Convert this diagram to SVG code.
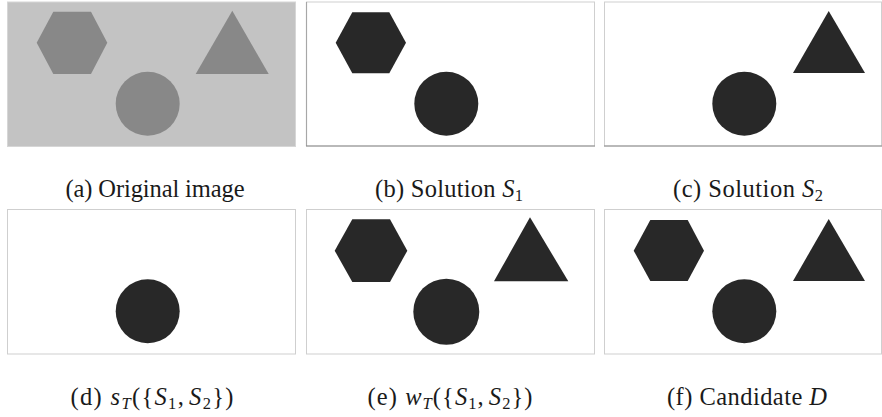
<svg xmlns="http://www.w3.org/2000/svg" width="882" height="417" viewBox="0 0 882 417">
<style>
.frame{fill:#ffffff;stroke:#cfcfcf;stroke-width:1}
.frameA{fill:#c3c3c3;stroke:#d6d6d6;stroke-width:1}
.base{stroke:#8c8c8c;stroke-width:1.2}
.dk{fill:#282828}
.gr{fill:#888888}
.lbl{font-family:"Liberation Serif","DejaVu Serif",serif;font-size:24.5px;fill:#1a1a1a;text-anchor:middle}
.it{font-style:italic}
.sb{font-size:16.5px}
</style>
<rect width="882" height="417" fill="#ffffff"/>
<g id="panel-a">
<rect class="frameA" x="7.5" y="2" width="288" height="144.5"/>
<polygon class="gr" points="36.7,42.7 53.3,11.7 91,11.7 107.3,42.7 91,74 53.3,74"/>
<polygon class="gr" points="232.3,10.7 268.7,74 195.7,74"/>
<circle class="gr" cx="147.7" cy="103.8" r="32"/>
<text class="lbl" x="155" y="197" textLength="179">(a) Original image</text>
</g>
<g id="panel-b">
<rect class="frame" x="306.5" y="2" width="288" height="144"/>
<line class="base" x1="306" y1="146" x2="595" y2="146"/>
<line class="base" x1="306.5" y1="2" x2="306.5" y2="146" stroke-opacity="0.6"/>
<polygon class="dk" points="335.7,42.7 352.3,12.3 389.3,12.3 406,42.7 389.3,73.3 352.3,73.3"/>
<circle class="dk" cx="446.3" cy="103.7" r="32"/>
<text class="lbl" x="449" y="197" textLength="148">(b) Solution <tspan class="it">S</tspan><tspan class="sb" dy="4">1</tspan></text>
</g>
<g id="panel-c">
<rect class="frame" x="604.5" y="2" width="277" height="144"/>
<line class="base" x1="604" y1="146" x2="882" y2="146"/>
<polygon class="dk" points="828.7,11 865,73 793,73"/>
<circle class="dk" cx="744.3" cy="103.7" r="32"/>
<text class="lbl" x="748" y="197" textLength="150">(c) Solution <tspan class="it">S</tspan><tspan class="sb" dy="4">2</tspan></text>
</g>
<g id="panel-d">
<rect class="frame" x="7.5" y="209.5" width="288" height="144.5"/>
<circle class="dk" cx="147.7" cy="311.3" r="32"/>
<text class="lbl" x="152" y="405" textLength="163">(d) <tspan class="it">s</tspan><tspan class="sb it" dy="4">T</tspan><tspan dy="-4">({</tspan><tspan class="it">S</tspan><tspan class="sb" dy="4">1</tspan><tspan dy="-4">,</tspan><tspan class="it" dx="4">S</tspan><tspan class="sb" dy="4">2</tspan><tspan dy="-4">})</tspan></text>
</g>
<g id="panel-e">
<rect class="frame" x="306.5" y="209.5" width="288" height="144.5"/>
<polygon class="dk" points="334.7,250.7 352.3,219.3 390,219.3 407.3,250.7 390,282 352.3,282"/>
<polygon class="dk" points="530,217.3 568.3,281.3 494,281.3"/>
<circle class="dk" cx="446.3" cy="311.7" r="33"/>
<text class="lbl" x="450" y="405" textLength="165">(e) <tspan class="it">w</tspan><tspan class="sb it" dy="4">T</tspan><tspan dy="-4">({</tspan><tspan class="it">S</tspan><tspan class="sb" dy="4">1</tspan><tspan dy="-4">,</tspan><tspan class="it" dx="4">S</tspan><tspan class="sb" dy="4">2</tspan><tspan dy="-4">})</tspan></text>
</g>
<g id="panel-f">
<rect class="frame" x="604.5" y="209.5" width="277" height="144.5"/>
<polygon class="dk" points="633.7,250.7 650.3,220 687.7,220 704,250.7 687.7,281 650.3,281"/>
<polygon class="dk" points="828.7,219 865,281 793,281"/>
<circle class="dk" cx="744.3" cy="311.3" r="32"/>
<text class="lbl" x="747" y="405" textLength="160">(f) Candidate <tspan class="it">D</tspan></text>
</g>
</svg>
